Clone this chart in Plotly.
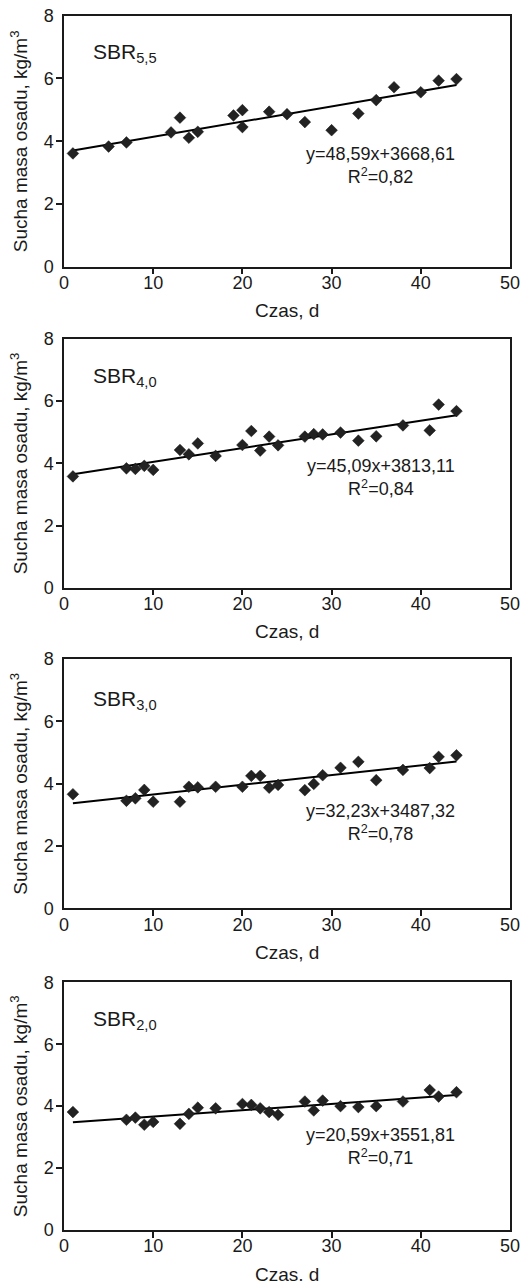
import plotly.graph_objects as go

# ---- data ----
panel_names = ["5,5", "4,0", "3,0", "2,0"]

days_55 = [1, 5, 7, 12, 13, 14, 15, 19, 20, 20, 23, 25, 27, 30, 33, 35, 37, 40, 42, 44]
mass_55 = [3.61, 3.83, 3.96, 4.28, 4.75, 4.11, 4.30, 4.82, 4.99, 4.45, 4.94, 4.86, 4.61, 4.35,
           4.88, 5.31, 5.72, 5.56, 5.93, 5.98]

days_40 = [1, 7, 8, 9, 10, 13, 14, 15, 17, 20, 21, 22, 23, 24, 27, 28, 29, 31, 33, 35, 38, 41, 42, 44]
mass_40 = [3.58, 3.84, 3.82, 3.92, 3.79, 4.43, 4.29, 4.64, 4.24, 4.59, 5.04, 4.41, 4.86, 4.58,
           4.86, 4.94, 4.93, 4.99, 4.73, 4.87, 5.22, 5.06, 5.89, 5.68]

days_30 = [1, 7, 8, 9, 10, 13, 14, 15, 17, 20, 21, 22, 23, 24, 27, 28, 29, 31, 33, 35, 38, 41, 42, 44]
mass_30 = [3.66, 3.45, 3.53, 3.80, 3.42, 3.42, 3.90, 3.88, 3.90, 3.90, 4.25, 4.25, 3.87, 3.96,
           3.79, 3.99, 4.27, 4.51, 4.70, 4.11, 4.44, 4.50, 4.86, 4.91]

days_20 = [1, 7, 8, 9, 10, 13, 14, 15, 17, 20, 21, 22, 23, 24, 27, 28, 29, 31, 33, 35, 38, 41, 42, 44]
mass_20 = [3.81, 3.56, 3.63, 3.40, 3.49, 3.43, 3.75, 3.95, 3.93, 4.07, 4.04, 3.93, 3.81, 3.72,
           4.15, 3.86, 4.18, 4.00, 3.97, 4.00, 4.15, 4.52, 4.31, 4.45]

trend_x = [1, 44]
trend_55 = [3.70, 5.79]
trend_40 = [3.65, 5.55]
trend_30 = [3.37, 4.71]
trend_20 = [3.48, 4.36]

equations = ["y=48,59x+3668,61", "y=45,09x+3813,11", "y=32,23x+3487,32", "y=20,59x+3551,81"]
r2_texts = ["0,82", "0,84", "0,78", "0,71"]

x_ticks = [0, 10, 20, 30, 40, 50]
y_ticks = [0, 2, 4, 6, 8]
x_title = "Czas, d"
y_title = "Sucha masa osadu, kg/m<sup>3</sup>"

# ---- layout constants (page body has an 8px default margin) ----
OFF = 8
W, H = 531 - OFF, 1281 - OFF
ML, MR, MT, MB = 64 - OFF, 21, 15 - OFF, 51
PH = H - MT - MB
panel_px = [(15.7, 266.7), (339.0, 587.7), (659.0, 908.3), (982.3, 1230.0)]
eq_y = [3.21, 3.55, 2.75, 2.71]
lbl_y = [6.80, 6.79, 6.69, 6.77]

FONT = "Liberation Sans, Arial, sans-serif"
INK = "#1a1a1a"

days = [days_55, days_40, days_30, days_20]
mass = [mass_55, mass_40, mass_30, mass_20]
trends = [trend_55, trend_40, trend_30, trend_20]

fig = go.Figure()
layout = {}
annotations = []

for i in range(4):
    n = i + 1
    xa = "x" if n == 1 else f"x{n}"
    ya = "y" if n == 1 else f"y{n}"
    top, bot = panel_px[i]
    top -= OFF
    bot -= OFF
    dom = [max(0.0, 1 - (bot - MT) / PH), min(1.0, 1 - (top - MT) / PH)]

    fig.add_trace(go.Scatter(x=trend_x, y=trends[i], mode="lines",
                             line=dict(color="black", width=2), xaxis=xa, yaxis=ya,
                             showlegend=False, hoverinfo="skip"))
    fig.add_trace(go.Scatter(x=days[i], y=mass[i], mode="markers",
                             marker=dict(symbol="diamond", size=9, color="#222222",
                                         line=dict(color="#111111", width=0.5)),
                             xaxis=xa, yaxis=ya, showlegend=False))

    xkey = "xaxis" if n == 1 else f"xaxis{n}"
    ykey = "yaxis" if n == 1 else f"yaxis{n}"
    layout[xkey] = dict(domain=[0, 1], anchor=ya, range=[0, 50], tickvals=x_ticks,
                        ticktext=[str(v) for v in x_ticks], ticks="",
                        minor=dict(tickvals=x_ticks[1:-1], ticks="outside", ticklen=6,
                                   tickwidth=1.5, tickcolor=INK, showgrid=False),
                        showline=True, mirror=True, linecolor=INK, linewidth=1.5,
                        showgrid=False, zeroline=False, ticklabelstandoff=-1,
                        ticklabeloverflow="allow",
                        tickfont=dict(family=FONT, size=18, color=INK))
    layout[ykey] = dict(domain=dom, anchor=xa, range=[0, 8], tickvals=y_ticks,
                        ticktext=[str(v) for v in y_ticks], ticks="",
                        minor=dict(tickvals=y_ticks[1:-1], ticks="outside", ticklen=6,
                                   tickwidth=1.5, tickcolor=INK, showgrid=False),
                        showline=True, mirror=True, linecolor=INK, linewidth=1.5,
                        showgrid=False, zeroline=False, ticklabelstandoff=5,
                        ticklabeloverflow="allow",
                        tickfont=dict(family=FONT, size=18, color=INK))

    annotations.append(dict(xref=xa, yref=ya, x=3.0, y=lbl_y[i], xanchor="left",
                            yanchor="middle", showarrow=False,
                            text=f"SBR<sub>{panel_names[i]}</sub>",
                            font=dict(family=FONT, size=21, color=INK)))
    annotations.append(dict(xref=xa, yref=ya, x=35.5, y=eq_y[i], xanchor="center",
                            yanchor="middle", showarrow=False, align="center",
                            text=f"{equations[i]}<br>R<sup>2</sup>={r2_texts[i]}",
                            font=dict(family=FONT, size=18, color=INK)))
    annotations.append(dict(xref=f"{xa} domain", yref=f"{ya} domain", x=0.5, y=0,
                            yshift=-44, xanchor="center", yanchor="middle",
                            showarrow=False, text=x_title,
                            font=dict(family=FONT, size=19, color=INK)))
    annotations.append(dict(xref=f"{xa} domain", yref=f"{ya} domain", x=0, y=0.5,
                            xshift=-45, xanchor="center", yanchor="middle",
                            textangle=-90, showarrow=False, text=y_title,
                            font=dict(family=FONT, size=19, color=INK)))

fig.update_layout(width=W, height=H, margin=dict(l=ML, r=MR, t=MT, b=MB, autoexpand=False),
                  paper_bgcolor="white", plot_bgcolor="rgba(0,0,0,0)",
                  font=dict(family=FONT, size=18, color=INK),
                  annotations=annotations, showlegend=False, **layout)

fig.write_html("out.html")
